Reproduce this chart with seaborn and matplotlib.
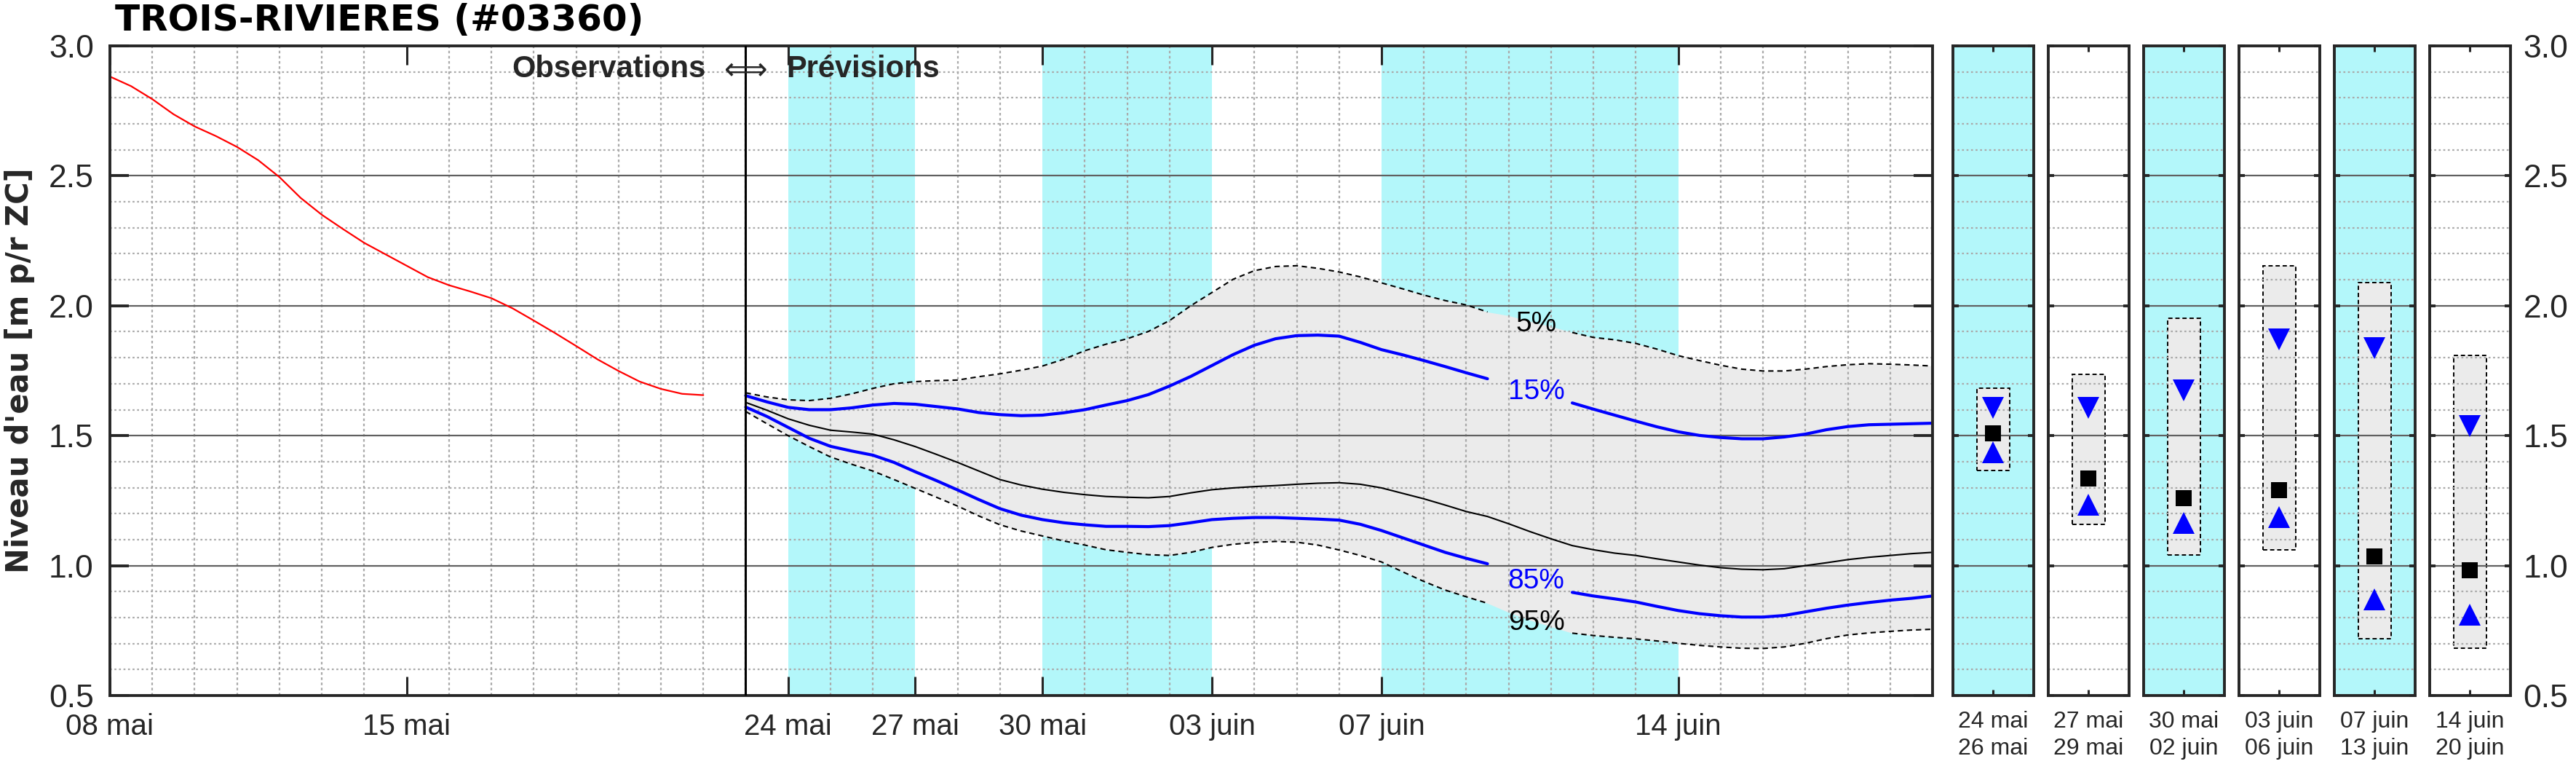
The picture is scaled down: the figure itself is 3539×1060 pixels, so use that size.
import numpy as np
import seaborn as sns
import matplotlib
matplotlib.use('Agg')
import matplotlib.pyplot as plt
from matplotlib.ticker import MultipleLocator

sns.set_theme(style='white')
plt.rcParams['font.family'] = ['Liberation Sans', 'DejaVu Sans']

# ---- data (x = days since 08 mai) ----
obs_days = np.arange(0, 14.5, 0.5)
obs_level = [2.882, 2.845, 2.795, 2.737, 2.690, 2.653, 2.611, 2.560, 2.495, 2.415,
             2.350, 2.295, 2.242, 2.198, 2.154, 2.110, 2.079, 2.055, 2.029, 1.990,
             1.943, 1.895, 1.845, 1.794, 1.749, 1.708, 1.680, 1.661, 1.656]

fc_days = np.arange(15, 43.5, 0.5)
p05 = [1.665, 1.649, 1.638, 1.635, 1.644, 1.661, 1.682, 1.700, 1.708, 1.712,
       1.714, 1.727, 1.738, 1.752, 1.768, 1.794, 1.827, 1.852, 1.873, 1.901,
       1.943, 2.000, 2.051, 2.102, 2.135, 2.151, 2.154, 2.144, 2.130, 2.111,
       2.088, 2.065, 2.041, 2.020, 2.003, 1.976, 1.962, 1.940, 1.920, 1.897,
       1.878, 1.869, 1.855, 1.833, 1.808, 1.789, 1.771, 1.756, 1.749, 1.749,
       1.756, 1.766, 1.773, 1.777, 1.775, 1.772, 1.768]
p15 = [1.654, 1.630, 1.609, 1.600, 1.600, 1.607, 1.618, 1.624, 1.621, 1.612,
       1.603, 1.589, 1.581, 1.577, 1.579, 1.588, 1.600, 1.618, 1.635, 1.658,
       1.691, 1.728, 1.770, 1.812, 1.848, 1.873, 1.885, 1.887, 1.883, 1.859,
       1.831, 1.811, 1.789, 1.766, 1.742, 1.719, 1.700, 1.680, 1.650, 1.626,
       1.602, 1.579, 1.556, 1.534, 1.515, 1.501, 1.493, 1.488, 1.488, 1.495,
       1.506, 1.523, 1.535, 1.542, 1.544, 1.546, 1.548]
p50 = [1.628, 1.598, 1.565, 1.540, 1.521, 1.514, 1.506, 1.484, 1.458, 1.428,
       1.397, 1.364, 1.331, 1.310, 1.294, 1.282, 1.273, 1.266, 1.263, 1.261,
       1.266, 1.280, 1.292, 1.299, 1.304, 1.308, 1.313, 1.317, 1.319, 1.313,
       1.299, 1.278, 1.257, 1.233, 1.208, 1.189, 1.161, 1.131, 1.103, 1.077,
       1.061, 1.048, 1.039, 1.026, 1.014, 1.002, 0.992, 0.986, 0.984, 0.988,
       1.000, 1.011, 1.023, 1.032, 1.039, 1.046, 1.051]
p85 = [1.610, 1.574, 1.532, 1.490, 1.459, 1.441, 1.425, 1.397, 1.361, 1.327,
       1.291, 1.254, 1.219, 1.194, 1.177, 1.165, 1.157, 1.151, 1.151, 1.150,
       1.154, 1.165, 1.177, 1.182, 1.185, 1.185, 1.182, 1.179, 1.175, 1.159,
       1.135, 1.107, 1.079, 1.051, 1.028, 1.007, 0.986, 0.960, 0.930, 0.897,
       0.883, 0.872, 0.860, 0.843, 0.827, 0.815, 0.807, 0.802, 0.802, 0.808,
       0.822, 0.836, 0.848, 0.858, 0.867, 0.874, 0.883]
p95 = [1.593, 1.546, 1.500, 1.458, 1.418, 1.390, 1.364, 1.331, 1.297, 1.263,
       1.229, 1.191, 1.157, 1.133, 1.114, 1.095, 1.079, 1.061, 1.051, 1.042,
       1.039, 1.051, 1.070, 1.082, 1.089, 1.093, 1.090, 1.079, 1.060, 1.039,
       1.014, 0.976, 0.939, 0.906, 0.880, 0.855, 0.820, 0.790, 0.765, 0.740,
       0.731, 0.724, 0.718, 0.710, 0.701, 0.693, 0.687, 0.682, 0.681, 0.687,
       0.701, 0.719, 0.733, 0.741, 0.747, 0.752, 0.755]

tick_days = [0, 7, 16, 19, 22, 26, 30, 37]
tick_labels = ['08 mai', '15 mai', '24 mai', '27 mai', '30 mai', '03 juin', '07 juin', '14 juin']
band_start = [16, 22, 30]
band_end = [19, 26, 37]

box_labels = ['24 mai\n26 mai', '27 mai\n29 mai', '30 mai\n02 juin',
              '03 juin\n06 juin', '07 juin\n13 juin', '14 juin\n20 juin']
box_p05 = [1.683, 1.736, 1.953, 2.154, 2.089, 1.809]
box_p15 = [1.608, 1.608, 1.675, 1.870, 1.837, 1.538]
box_p50 = [1.509, 1.335, 1.260, 1.290, 1.035, 0.982]
box_p85 = [1.436, 1.233, 1.163, 1.187, 0.870, 0.812]
box_p95 = [1.365, 1.160, 1.040, 1.060, 0.720, 0.682]
box_shaded = [True, False, True, False, True, False]

# ---- styles ----
CYAN = '#b3f7fa'
GRAY = '#ebebeb'
DARK = '#262626'
LABEL_DAY = 33.65
GAP_HALF = 0.8

W, H = 3539, 1060
fig = plt.figure(figsize=(W / 100, H / 100), dpi=100)
ax_bottom = (H - 955) / H
ax_height = (955 - 63) / H


def style_axes(a):
    for s in a.spines.values():
        s.set_linewidth(2.8)
        s.set_color(DARK)
    a.set_ylim(0.5, 3.0)
    a.yaxis.set_major_locator(MultipleLocator(0.5))
    a.yaxis.set_minor_locator(MultipleLocator(0.1))
    a.grid(which='major', axis='y', color='#606060', lw=1.6, ls='-')
    a.grid(which='minor', axis='y', color='#aaaaaa', lw=1.6, ls=(0, (1.2, 1.6)))
    a.tick_params(which='minor', length=0)
    a.set_axisbelow(True)


# ---- main panel ----
ax = fig.add_axes([151 / W, ax_bottom, (2655 - 151) / W, ax_height])
style_axes(ax)
ax.set_xlim(0, 43)
ax.set_xticks(tick_days, tick_labels)
ax.xaxis.set_minor_locator(MultipleLocator(1))
ax.grid(which='minor', axis='x', color='#aaaaaa', lw=1.6, ls=(0, (1.6, 1.6)))
ax.tick_params(axis='x', which='major', direction='in', length=19, width=2.2,
               top=True, bottom=True, labelsize=29, pad=17, color=DARK, labelcolor=DARK)
ax.tick_params(axis='y', which='major', direction='in', length=19, width=2.8,
               left=True, right=True, labelsize=32, pad=16, color=DARK, labelcolor=DARK)
ax.set_yticks([0.5, 1.0, 1.5, 2.0, 2.5, 3.0], ['0.5', '1.0', '1.5', '2.0', '2.5', '3.0'])

for s, e in zip(band_start, band_end):
    ax.axvspan(s, e, color=CYAN, lw=0, zorder=0.1)
ax.fill_between(fc_days, p95, p05, color=GRAY, lw=0, zorder=0.3)
ax.axvline(15, color='black', lw=2.2, zorder=3)

sns.lineplot(x=obs_days, y=obs_level, ax=ax, color='red', lw=1.6, estimator=None, sort=False)
sns.lineplot(x=fc_days, y=p50, ax=ax, color='black', lw=1.5, estimator=None, sort=False)


def draw_gapped(vals, **kw):
    vals = np.asarray(vals)
    keep = np.abs(fc_days - LABEL_DAY) > GAP_HALF
    for m in (keep & (fc_days < LABEL_DAY), keep & (fc_days > LABEL_DAY)):
        sns.lineplot(x=fc_days[m], y=vals[m], ax=ax, estimator=None, sort=False, **kw)


draw_gapped(p05, color='black', lw=1.5, linestyle=(0, (3.5, 2.5)))
draw_gapped(p95, color='black', lw=1.5, linestyle=(0, (3.5, 2.5)))
draw_gapped(p15, color='#0000ff', lw=3.0)
draw_gapped(p85, color='#0000ff', lw=3.0)

pct_labels = [('5%', 1.93, 'black'), ('15%', 1.67, '#0000ff'),
              ('85%', 0.94, '#0000ff'), ('95%', 0.78, 'black')]
for txt, yv, col in pct_labels:
    ax.text(LABEL_DAY, yv, txt, color=col, fontsize=28, ha='center', va='center', zorder=4)

ax.text(14.05, 2.88, 'Observations', fontsize=30, fontweight='bold', ha='right', va='baseline', zorder=4)
ax.text(15.0, 2.905, '\u27fa', family=['DejaVu Sans'], fontsize=30, ha='center', va='center', zorder=4)
ax.text(15.95, 2.88, 'Prévisions', fontsize=30, fontweight='bold', ha='left', va='baseline', zorder=4)
ax.set_xlabel('')
ax.set_ylabel('')

# ---- period panels ----
for i in range(6):
    pax = fig.add_axes([(2682.6 + i * 131.0) / W, ax_bottom, 111 / W, ax_height])
    style_axes(pax)
    if box_shaded[i]:
        pax.set_facecolor(CYAN)
    pax.set_xlim(-1, 1)
    pax.set_xticks([0], [box_labels[i]])
    pax.tick_params(axis='x', which='major', direction='in', length=6, width=2.2,
                    top=True, bottom=True, labelsize=23, pad=15, color=DARK, labelcolor=DARK)
    for lab in pax.get_xticklabels():
        lab.set_linespacing(1.3)
    pax.tick_params(axis='y', which='major', direction='in', length=6, width=2.8,
                    left=True, right=True, labelleft=False, labelright=(i == 5),
                    labelsize=32, pad=13, color=DARK, labelcolor=DARK)
    if i == 5:
        pax.set_yticks([0.5, 1.0, 1.5, 2.0, 2.5, 3.0], ['0.5', '1.0', '1.5', '2.0', '2.5', '3.0'])
    pax.bar(0, box_p05[i] - box_p95[i], bottom=box_p95[i], width=0.81, color=GRAY,
            edgecolor='black', linestyle=(0, (3, 2)), linewidth=1.4, zorder=0.3)
    pax.plot(0, box_p15[i], marker='v', ms=21, color='#0000ff', mew=0, zorder=4)
    pax.plot(0, box_p85[i], marker='^', ms=21, color='#0000ff', mew=0, zorder=4)
    pax.plot(0, box_p50[i], marker='s', ms=15.5, color='black', mew=0, zorder=4)

fig.text(158 / W, 1 - 42 / H, 'TROIS-RIVIERES (#03360)', family=['DejaVu Sans'], fontsize=36,
         fontweight='bold', ha='left', va='baseline', color='black')
fig.text(27 / W, 1 - 509 / H, "Niveau d'eau [m p/r ZC]", family=['DejaVu Sans'], rotation=90,
         fontsize=30, fontweight='bold', ha='center', va='center', color=DARK)

fig.savefig('out.png', dpi=100)
